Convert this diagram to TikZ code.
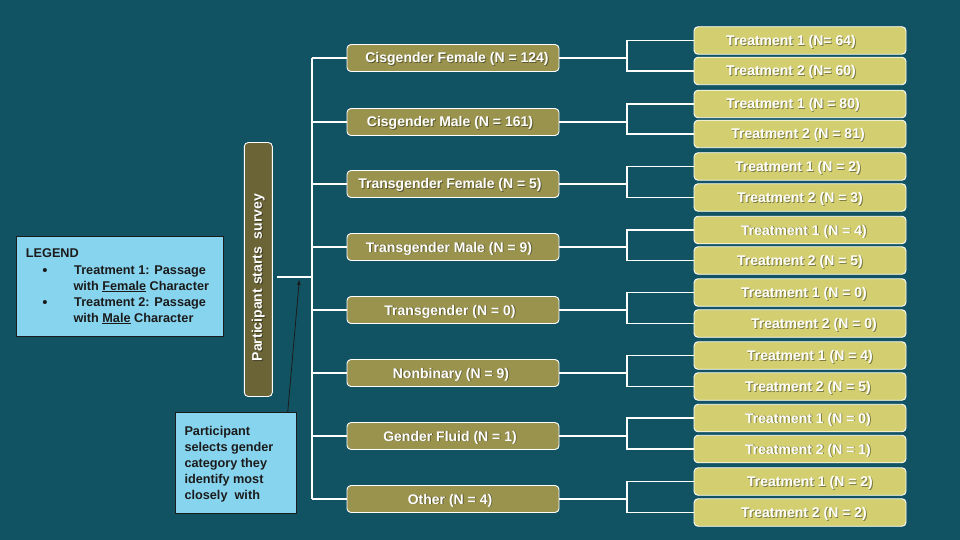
\documentclass[tikz,border=0pt]{standalone}
\usepackage{fontspec}
\setmainfont{Liberation Sans}
\usetikzlibrary{arrows.meta,calc}
\definecolor{bg}{HTML}{125363}
\definecolor{catfill}{HTML}{9A934E}
\definecolor{trfill}{HTML}{D3CF70}
\definecolor{startfill}{HTML}{6B6437}
\definecolor{legfill}{HTML}{87D4EF}
\definecolor{ink}{HTML}{1B1B1B}
\tikzset{
  box/.style={draw=white, line width=0.9pt, rounded corners=4pt, minimum width=212pt, minimum height=27pt, inner sep=0pt},
  catbox/.style={box, fill=catfill},
  trbox/.style={box, fill=trfill, minimum height=27.5pt},
  txt/.style={text=white, font=\fontsize{14}{16}\selectfont\bfseries, inner sep=0pt},
  shd/.style={txt, text=black, opacity=0.4},
  conn/.style={draw=white, line width=1.1pt},
  legbox/.style={draw=ink, fill=legfill, line width=0.9pt, inner sep=0pt},
  legtxt/.style={text=ink, font=\fontsize{12.7}{16}\selectfont\bfseries, inner sep=0pt},
}
% name, style, x, y, text, text x
\newcommand\mkbox[6]{%
  \node[#2] (#1) at (#3,#4) {};
  \node[shd, anchor=base] (#1-s) at (#6+0.9,#4+5.9) {#5};
  \node[txt, anchor=base] (#1-t) at (#6,#4+5) {#5};}
\begin{document}
\begin{tikzpicture}[x=1pt,y=-1pt]
\fill[bg] (0,0) rectangle (960,540);
\useasboundingbox (0,0) rectangle (960,540);

% start box
\node[box, fill=startfill, minimum width=28pt, minimum height=254pt] (start) at (258.3,269.5) {};
\node[shd, rotate=90] (start-s) at (259.2,278.4) {Participant starts\ \ survey};
\node[txt, rotate=90] (start-t) at (258.3,277.5) {Participant starts\ \ survey};

% categories
\mkbox{c1}{catbox}{453}{58}{Cisgender Female (N = 124)}{457}
\mkbox{c2}{catbox}{453}{122}{Cisgender Male (N = 161)}{450}
\mkbox{c3}{catbox}{453}{184}{Transgender Female (N = 5)}{450}
\mkbox{c4}{catbox}{453}{247}{Transgender Male (N = 9)}{449}
\mkbox{c5}{catbox}{453}{310}{Transgender (N = 0)}{450}
\mkbox{c6}{catbox}{453}{373}{Nonbinary (N = 9)}{451}
\mkbox{c7}{catbox}{453}{436}{Gender Fluid (N = 1)}{450}
\mkbox{c8}{catbox}{453}{499}{Other (N = 4)}{450}

% treatments
\mkbox{t1a}{trbox}{800}{40.5}{Treatment 1 (N= 64)}{791}
\mkbox{t1b}{trbox}{800}{71}{Treatment 2 (N= 60)}{791}
\mkbox{t2a}{trbox}{800}{104}{Treatment 1 (N = 80)}{793}
\mkbox{t2b}{trbox}{800}{134}{Treatment 2 (N = 81)}{798}
\mkbox{t3a}{trbox}{800}{166.5}{Treatment 1 (N = 2)}{798}
\mkbox{t3b}{trbox}{800}{197.5}{Treatment 2 (N = 3)}{800}
\mkbox{t4a}{trbox}{800}{230}{Treatment 1 (N = 4)}{804}
\mkbox{t4b}{trbox}{800}{260.5}{Treatment 2 (N = 5)}{800}
\mkbox{t5a}{trbox}{800}{292.5}{Treatment 1 (N = 0)}{804}
\mkbox{t5b}{trbox}{800}{323.5}{Treatment 2 (N = 0)}{814}
\mkbox{t6a}{trbox}{800}{355.5}{Treatment 1 (N = 4)}{810}
\mkbox{t6b}{trbox}{800}{386.5}{Treatment 2 (N = 5)}{808}
\mkbox{t7a}{trbox}{800}{418}{Treatment 1 (N = 0)}{808}
\mkbox{t7b}{trbox}{800}{449}{Treatment 2 (N = 1)}{808}
\mkbox{t8a}{trbox}{800}{481.5}{Treatment 1 (N = 2)}{810}
\mkbox{t8b}{trbox}{800}{512.5}{Treatment 2 (N = 2)}{804}

% connectors
\coordinate (tx) at (312,0);
\coordinate (bx) at (627,0);
\coordinate (stub) at (277,277);
\draw[conn] (c1.west -| tx) -- (c8.west -| tx);
\draw[conn] (stub) -- (stub -| tx);
\foreach \i in {1,...,8}{
  \draw[conn] (c\i.west -| tx) -- (c\i.west);
  \draw[conn] (c\i.east) -- (c\i.east -| bx);
  \draw[conn] (t\i a.west) -- (t\i a.west -| bx) -- (t\i b.west -| bx) -- (t\i b.west);
}

% legend
\node[legbox, minimum width=207pt, minimum height=100pt] (legend) at (119.8,286.3) {};
\node[legtxt, anchor=base west] (lg0) at (25.7,257) {LEGEND};
\node[legtxt, anchor=base, font=\fontsize{15}{16}\selectfont] (lgb1) at (45,275) {•};
\node[legtxt, anchor=base, font=\fontsize{15}{16}\selectfont] (lgb2) at (45,307) {•};
\node[legtxt, anchor=base west] (lg1) at (74,274) {Treatment 1: Passage};
\node[legtxt, anchor=base west] (lg2) at (73.3,290) {with \underline{Female} Character};
\node[legtxt, anchor=base west] (lg3) at (74,306) {Treatment 2: Passage};
\node[legtxt, anchor=base west] (lg4) at (73.3,322) {with \underline{Male} Character};

% callout
\node[legbox, minimum width=121pt, minimum height=101pt] (call) at (235.8,462.8) {};
\node[legtxt, align=left, anchor=north west] (calltxt) at (184.3,426) {Participant\\selects gender\\category they\\identify most\\closely\ \ with};
\coordinate (tip) at (299.3,280);
\draw[ink, line width=0.8pt, -{Triangle[length=5pt,width=3.5pt]}] ([xshift=-9pt]call.north east) -- (tip);
\end{tikzpicture}
\end{document}
